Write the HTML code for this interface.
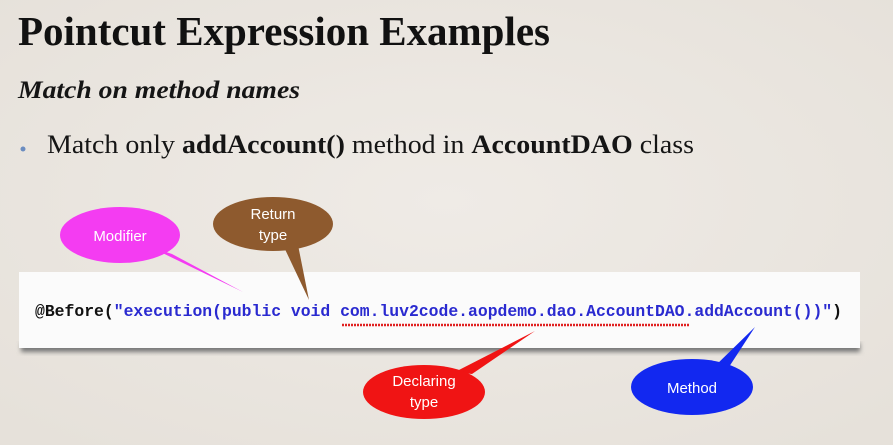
<!DOCTYPE html>
<html><head><meta charset="utf-8"><style>
html,body{margin:0;padding:0;width:893px;height:445px;overflow:hidden;background:#ece8e2}
</style></head><body>
<svg width="893" height="445" viewBox="0 0 893 445" xmlns="http://www.w3.org/2000/svg">
<defs>
<radialGradient id="bg" cx="50%" cy="45%" r="70%"><stop offset="0" stop-color="#efebe6"/><stop offset="1" stop-color="#e6e1da"/></radialGradient>
<filter id="sh" x="-5%" y="-20%" width="110%" height="160%"><feGaussianBlur stdDeviation="2.5"/></filter>
</defs>
<rect width="893" height="445" fill="url(#bg)"/>
<text x="18" y="45" font-family="Liberation Serif, serif" font-size="41" font-weight="bold" fill="#111" textLength="532" lengthAdjust="spacingAndGlyphs">Pointcut Expression Examples</text>
<text x="18" y="98" font-family="Liberation Serif, serif" font-size="25" font-style="italic" font-weight="bold" fill="#151515" textLength="282" lengthAdjust="spacingAndGlyphs">Match on method names</text>
<circle cx="23" cy="149" r="2.5" fill="#6b8cc0"/>
<text x="47" y="153" font-family="Liberation Serif, serif" font-size="26" fill="#151515" textLength="647" lengthAdjust="spacingAndGlyphs">Match only <tspan font-weight="bold">addAccount()</tspan> method in <tspan font-weight="bold">AccountDAO</tspan> class</text>

<rect x="21" y="343" width="839" height="9" fill="#777" filter="url(#sh)"/>
<rect x="19" y="272" width="841" height="76" fill="#fbfbfb"/>
<text x="35" y="316" font-family="Liberation Mono, monospace" font-size="16.4" font-weight="bold" textLength="807" lengthAdjust="spacingAndGlyphs"><tspan fill="#111">@Before(</tspan><tspan fill="#2a2ad0">"execution(public void com.luv2code.aopdemo.dao.AccountDAO.addAccount())"</tspan><tspan fill="#111">)</tspan></text>
<line x1="342" y1="325" x2="690" y2="325" stroke="#e02020" stroke-width="2.5" stroke-dasharray="2 1"/>

<polygon points="148,246 172,254 243,292" fill="#f43cf2"/>
<ellipse cx="120" cy="235" rx="60" ry="28" fill="#f43cf2"/>
<text x="120" y="241" text-anchor="middle" font-family="Liberation Sans, sans-serif" font-size="15" fill="#fff">Modifier</text>

<polygon points="283,245 298,245 309,300" fill="#8e5a2e"/>
<ellipse cx="273" cy="224" rx="60" ry="27" fill="#8e5a2e"/>
<text x="273" y="219" text-anchor="middle" font-family="Liberation Sans, sans-serif" font-size="15" fill="#fff">Return</text>
<text x="273" y="240" text-anchor="middle" font-family="Liberation Sans, sans-serif" font-size="15" fill="#fff">type</text>

<polygon points="455,372 472,374 535,331" fill="#f01414"/>
<ellipse cx="424" cy="392" rx="61" ry="27" fill="#f01414"/>
<text x="424" y="386" text-anchor="middle" font-family="Liberation Sans, sans-serif" font-size="15" fill="#fff">Declaring</text>
<text x="424" y="407" text-anchor="middle" font-family="Liberation Sans, sans-serif" font-size="15" fill="#fff">type</text>

<polygon points="713,368 727,370 755,327" fill="#1228f0"/>
<ellipse cx="692" cy="387" rx="61" ry="28" fill="#1228f0"/>
<text x="692" y="393" text-anchor="middle" font-family="Liberation Sans, sans-serif" font-size="15" fill="#fff">Method</text>
</svg>
</body></html>
